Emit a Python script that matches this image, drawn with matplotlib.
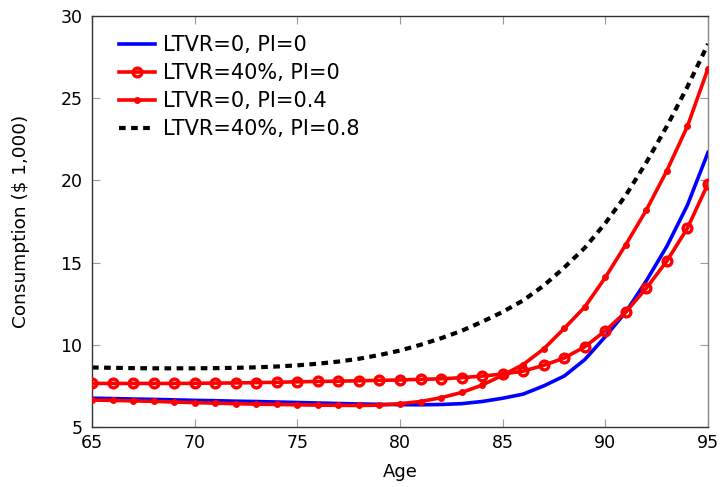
import matplotlib
matplotlib.use("Agg")
import matplotlib.pyplot as plt
import numpy as np

ages = list(range(65, 96))

base = [6.75, 6.73, 6.70, 6.68, 6.65, 6.62, 6.60, 6.57, 6.55, 6.52, 6.49, 6.46, 6.43, 6.40,
        6.38, 6.36, 6.35, 6.37, 6.42, 6.55, 6.75, 7.00, 7.50, 8.10, 9.10, 10.50, 12.00, 13.90,
        16.00, 18.50, 21.70]
ltvr40 = [7.65, 7.65, 7.65, 7.65, 7.65, 7.66, 7.67, 7.68, 7.70, 7.72, 7.75, 7.77, 7.79, 7.81,
          7.84, 7.86, 7.90, 7.93, 8.00, 8.10, 8.22, 8.40, 8.75, 9.20, 9.88, 10.85, 12.00, 13.45,
          15.10, 17.10, 19.80]
pi04 = [6.64, 6.62, 6.59, 6.56, 6.52, 6.48, 6.45, 6.42, 6.39, 6.37, 6.35, 6.33, 6.32, 6.31,
        6.33, 6.42, 6.55, 6.78, 7.10, 7.55, 8.15, 8.80, 9.75, 11.00, 12.30, 14.10, 16.10, 18.20,
        20.60, 23.30, 26.80]
both = [8.62, 8.60, 8.58, 8.57, 8.57, 8.57, 8.58, 8.60, 8.63, 8.68, 8.75, 8.85, 8.98, 9.15,
        9.38, 9.65, 10.00, 10.40, 10.85, 11.40, 12.00, 12.70, 13.60, 14.70, 15.90, 17.40, 19.10,
        21.10, 23.30, 25.70, 28.30]

labels = ["LTVR=0, PI=0", "LTVR=40%, PI=0", "LTVR=0, PI=0.4", "LTVR=40%, PI=0.8"]
xticks = [65, 70, 75, 80, 85, 90, 95]
yticks = [5, 10, 15, 20, 25, 30]

plt.rcParams['font.family'] = ['DejaVu Sans']
fig = plt.figure(figsize=(7.22, 4.87), dpi=100)
ax = fig.add_axes([92/722, 1-427/487, (708-92)/722, (427-16)/487])

ax.plot(ages, base, color='#0000ff', lw=2.6, label=labels[0], zorder=3)
ax.plot(ages, ltvr40, color='#ff0000', lw=2.6, marker='o', ms=6.3, mfc='none', mew=2.4,
        label=labels[1], zorder=4)
ax.plot(ages, pi04, color='#ff0000', lw=2.6, marker='o', ms=5.0, mfc='#ff0000', mew=0,
        label=labels[2], zorder=5)
ax.plot(ages, both, color='black', lw=3, ls=(0, (1.6, 1.3)), label=labels[3], zorder=2)

ax.set_xlim(65, 95)
ax.set_ylim(5, 30)
ax.set_xticks(xticks)
ax.set_yticks(yticks)
ax.tick_params(direction='in', length=6, width=0.8, color='#999999', top=True, right=True,
               labelsize=12.5, labelcolor='black')
ax.tick_params(axis='x', pad=5)
ax.tick_params(axis='y', pad=7)
for side in ['left', 'bottom', 'top']:
    ax.spines[side].set_color('#333333')
ax.spines['right'].set_color('#888888')
for s in ax.spines.values():
    s.set_linewidth(1.0)

ax.set_xlabel('Age', fontsize=13, labelpad=8)
ax.set_ylabel('Consumption ($ 1,000)', fontsize=13.3, labelpad=22)

leg = ax.legend(loc='upper left', frameon=False, fontsize=15, handlelength=1.75,
                handletextpad=0.35, labelspacing=0.38, borderaxespad=0.0, borderpad=0.4,
                bbox_to_anchor=(0.030, 0.973))

fig.savefig('out.png', dpi=100)
